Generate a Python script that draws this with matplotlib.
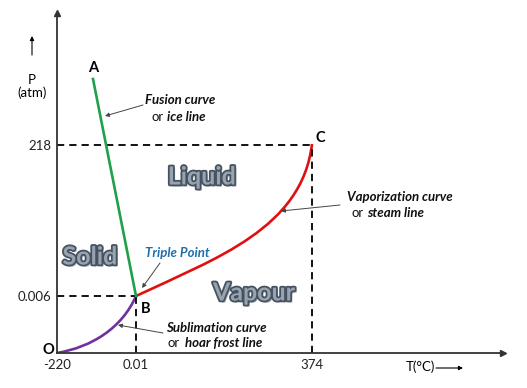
import matplotlib
matplotlib.use("Agg")
import matplotlib.pyplot as plt
import matplotlib.patheffects as pe
from matplotlib.path import Path
from matplotlib.patches import PathPatch

plt.rcParams["font.family"] = ["Lato", "DejaVu Sans"]

# schematic diagram: positions are layout units along each axis, not a real scale
t_labels = ["-220", "0.01", "374"]
t_pos = [0, 79, 255]
p_labels = ["0.006", "218"]
p_pos = [57, 208]

# curves in schematic units: O -> B and B -> C as cubic bezier control points, B -> A straight
sub_x = [0, 35, 65, 79]
sub_y = [0, 6, 25, 57]
fus_x = [79, 36]
fus_y = [57, 274]
vap_x = [79, 160, 245, 255]
vap_y = [57, 95, 125, 209]

fig = plt.figure(figsize=(5.27, 3.88), dpi=100)
ax = fig.add_axes([57 / 527, 35 / 388, 446 / 527, 340 / 388])
ax.set_xlim(0, 446)
ax.set_ylim(0, 340)
for s in ["top", "right"]:
    ax.spines[s].set_visible(False)
for s in ["left", "bottom"]:
    ax.spines[s].set_color("#333333")
    ax.spines[s].set_linewidth(1.3)
ax.plot([0], [340], marker="^", color="#333333", markersize=4, clip_on=False)
ax.plot([446], [0], marker=">", color="#333333", markersize=4, clip_on=False)

ax.set_xticks(t_pos, t_labels)
ax.set_yticks(p_pos, p_labels)
ax.tick_params(length=0, labelsize=9.5, colors="#222222", pad=4)

# dashed guides to B and C
dash = dict(color="black", lw=1.3, dashes=(4, 2.8))
ax.plot([0, t_pos[1]], [p_pos[0], p_pos[0]], **dash)
ax.plot([t_pos[1], t_pos[1]], [0, p_pos[0]], **dash)
ax.plot([0, t_pos[2]], [p_pos[1], p_pos[1]], **dash)
ax.plot([t_pos[2], t_pos[2]], [0, p_pos[1]], **dash)

bez = [Path.MOVETO, Path.CURVE4, Path.CURVE4, Path.CURVE4]
ax.add_patch(PathPatch(Path(list(zip(sub_x, sub_y)), bez), fill=False,
                       edgecolor="#7030a0", lw=1.9, capstyle="round"))
ax.plot(fus_x, fus_y, color="#1fa04a", lw=1.9)
ax.add_patch(PathPatch(Path(list(zip(vap_x, vap_y)), bez), fill=False,
                       edgecolor="#e01010", lw=1.9))

# point labels
ax.text(36, 278, "A", ha="center", va="bottom", fontsize=10.5, fontweight="bold")
ax.text(84, 51, "B", ha="left", va="top", fontsize=10.5, fontweight="bold")
ax.text(258, 208, "C", ha="left", va="bottom", fontsize=10.5, fontweight="bold")
ax.text(-3, 3, "O", ha="right", va="center", fontsize=10.5, fontweight="bold")

# axis titles
ax.text(-25, 273, "P", ha="center", va="center", fontsize=9.5, clip_on=False)
ax.text(-25, 260, "(atm)", ha="center", va="center", fontsize=9.5, clip_on=False)
ax.annotate("", xy=(-25, 317), xytext=(-25, 298), annotation_clip=False,
            arrowprops=dict(arrowstyle="-|>", color="black", lw=0.8, mutation_scale=6,
                            shrinkA=0, shrinkB=0))
ax.text(363, -14, "T(°C)", ha="center", va="center", fontsize=9.5, clip_on=False)
ax.annotate("", xy=(406, -15), xytext=(379, -15), annotation_clip=False,
            arrowprops=dict(arrowstyle="-|>", color="black", lw=0.8, mutation_scale=6,
                            shrinkA=0, shrinkB=0))

# phase region names
phase = dict(fontsize=18, fontweight="bold", color="#97a3b0", ha="center", va="center",
             path_effects=[pe.SimplePatchShadow(offset=(1.5, -1.5), alpha=0.35),
                           pe.Stroke(linewidth=2.6, foreground="#46525f"), pe.Normal()])
ax.text(145, 176, "Liquid", **phase)
ax.text(33, 96, "Solid", **phase)
ax.text(197, 60, "Vapour", **phase)

# annotations
arrow = dict(arrowstyle="-|>", color="#444444", lw=0.7, mutation_scale=6, shrinkA=0, shrinkB=0)
note = dict(fontsize=9.5, fontstyle="italic", fontweight="bold", color="#111111")
plain = dict(fontsize=9.5, color="#111111")

ax.text(123, 253, "Fusion curve", ha="center", va="center", **note)
ax.text(107, 236, "or", ha="right", va="center", **plain)
ax.text(110, 236, "ice line", ha="left", va="center", **note)
ax.annotate("", xy=(48, 237), xytext=(86, 248), arrowprops=arrow)

ax.text(120, 100, "Triple Point", ha="center", va="center", fontsize=9.5,
        fontstyle="italic", fontweight="bold", color="#1f6fa8")
ax.annotate("", xy=(85, 65), xytext=(103, 90), arrowprops=arrow)

ax.text(343, 156, "Vaporization curve", ha="center", va="center", **note)
ax.text(307, 140, "or", ha="right", va="center", **plain)
ax.text(310, 140, "steam line", ha="left", va="center", **note)
ax.annotate("", xy=(224, 142), xytext=(283, 148), arrowprops=arrow)

ax.text(159, 25, "Sublimation curve", ha="center", va="center", **note)
ax.text(123, 10, "or", ha="right", va="center", **plain)
ax.text(128, 10, "hoar frost line", ha="left", va="center", **note)
ax.annotate("", xy=(61, 28), xytext=(106, 20), arrowprops=arrow)

fig.savefig("out.png", dpi=100)
